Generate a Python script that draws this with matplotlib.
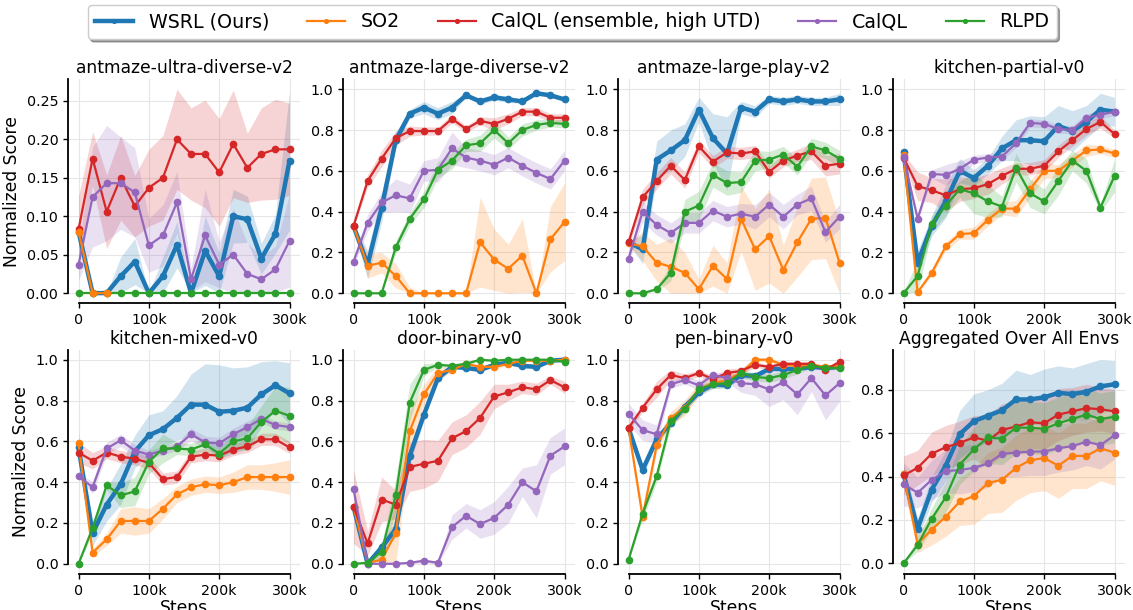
"""
plot.py

Online fine-tuning curves (normalized score vs. environment steps) for
WSRL and baselines on eight D4RL tasks, with shaded spread bands.
"""

import numpy as np
import matplotlib.pyplot as plt
from matplotlib.ticker import FuncFormatter

NAN = float("nan")

STEPS = [0, 20000, 40000, 60000, 80000, 100000, 120000, 140000, 160000,
         180000, 200000, 220000, 240000, 260000, 280000, 300000]

METHODS = ["WSRL (Ours)", "SO2", "CalQL (ensemble, high UTD)", "CalQL", "RLPD"]
COLORS = {
    "WSRL (Ours)": "#1f77b4",
    "SO2": "#ff7f0e",
    "CalQL (ensemble, high UTD)": "#d62728",
    "CalQL": "#9467bd",
    "RLPD": "#2ca02c",
}

ENV_TITLES = [
    "antmaze-ultra-diverse-v2", "antmaze-large-diverse-v2", "antmaze-large-play-v2",
    "kitchen-partial-v0", "kitchen-mixed-v0", "door-binary-v0", "pen-binary-v0",
    "Aggregated Over All Envs",
]

# --- antmaze-ultra-diverse-v2 ---
ultra_mean = {
    "WSRL (Ours)": [0.08, 0, 0, 0.022, 0.041, 0, 0.022, 0.063, 0, 0.055, 0.022, 0.10, 0.096, 0.045, 0.077, 0.172],
    "SO2": [0.08, 0, 0, NAN, NAN, NAN, NAN, NAN, NAN, NAN, NAN, NAN, NAN, NAN, NAN, NAN],
    "CalQL (ensemble, high UTD)": [0.083, 0.175, 0.106, 0.15, 0.113, 0.137, 0.15, 0.20, 0.181, 0.181, 0.157, 0.194, 0.163, 0.181, 0.187, 0.187],
    "CalQL": [0.037, 0.125, 0.143, 0.143, 0.131, 0.062, 0.075, 0.118, 0.018, 0.075, 0.037, 0.05, 0.025, 0.018, 0.031, 0.068],
    "RLPD": [0, 0, 0, 0, 0, 0, 0, 0, 0, 0, 0, 0, 0, 0, 0, 0],
}
ultra_err = {
    "WSRL (Ours)": [0, 0, 0, 0.025, 0.03, 0, 0.025, 0.03, 0, 0.045, 0.03, 0.035, 0.03, 0.02, 0.025, 0.09],
    "SO2": [0.02, 0, 0, NAN, NAN, NAN, NAN, NAN, NAN, NAN, NAN, NAN, NAN, NAN, NAN, NAN],
    "CalQL (ensemble, high UTD)": [0.043, 0.035, 0.048, 0.055, 0.04, 0.05, 0.055, 0.065, 0.06, 0.07, 0.07, 0.07, 0.045, 0.06, 0.065, 0.06],
    "CalQL": [0.02, 0.065, 0.075, 0.06, 0.058, 0.035, 0.04, 0.04, 0.015, 0.06, 0.03, 0.06, 0.04, 0.03, 0.03, 0.06],
    "RLPD": [0, 0, 0, 0, 0, 0, 0, 0, 0, 0, 0, 0, 0, 0, 0, 0],
}

# --- antmaze-large-diverse-v2 ---
large_diverse_mean = {
    "WSRL (Ours)": [0.33, 0.14, 0.42, 0.75, 0.88, 0.91, 0.88, 0.91, 0.97, 0.94, 0.96, 0.95, 0.94, 0.98, 0.97, 0.95],
    "SO2": [0.33, 0.135, 0.15, 0.085, 0, 0, 0, 0, 0, 0.25, 0.165, 0.12, 0.185, 0, 0.265, 0.35],
    "CalQL (ensemble, high UTD)": [0.33, 0.55, 0.66, 0.76, 0.795, 0.795, 0.795, 0.855, 0.805, 0.845, 0.83, 0.855, 0.89, 0.89, 0.86, 0.86],
    "CalQL": [0.155, 0.345, 0.445, 0.48, 0.465, 0.60, 0.605, 0.71, 0.665, 0.65, 0.63, 0.665, 0.625, 0.59, 0.56, 0.65],
    "RLPD": [0, 0, 0, 0.225, 0.365, 0.46, 0.605, 0.65, 0.725, 0.735, 0.80, 0.735, 0.80, 0.825, 0.835, 0.83],
}
large_diverse_err = {
    "WSRL (Ours)": [0.01, 0.07, 0.07, 0.04, 0.02, 0.03, 0.03, 0.03, 0.01, 0.015, 0.015, 0.015, 0.01, 0.01, 0.01, 0.01],
    "SO2": [0.005, 0.06, 0.05, 0.06, 0.03, 0, 0, 0, 0, 0.22, 0.15, 0.12, 0.18, 0, 0.16, 0.19],
    "CalQL (ensemble, high UTD)": [0.01, 0.03, 0.04, 0.035, 0.025, 0.02, 0.02, 0.02, 0.015, 0.02, 0.03, 0.025, 0.02, 0.02, 0.02, 0.02],
    "CalQL": [0.02, 0.04, 0.05, 0.08, 0.07, 0.05, 0.06, 0.08, 0.05, 0.05, 0.05, 0.05, 0.05, 0.05, 0.05, 0.05],
    "RLPD": [0, 0, 0, 0.03, 0.03, 0.04, 0.04, 0.04, 0.03, 0.04, 0.04, 0.03, 0.03, 0.025, 0.02, 0.02],
}

# --- antmaze-large-play-v2 ---
large_play_mean = {
    "WSRL (Ours)": [0.25, 0.215, 0.655, 0.70, 0.75, 0.90, 0.76, 0.685, 0.91, 0.89, 0.95, 0.94, 0.95, 0.94, 0.94, 0.95],
    "SO2": [0.245, 0.23, 0.15, 0.13, 0.10, 0.02, 0.135, 0.07, 0.365, 0.215, 0.28, 0.115, 0.25, 0.365, 0.37, 0.15],
    "CalQL (ensemble, high UTD)": [0.25, 0.47, 0.55, 0.625, 0.555, 0.72, 0.645, 0.69, 0.685, 0.695, 0.595, 0.65, 0.675, 0.695, 0.625, 0.635],
    "CalQL": [0.17, 0.40, 0.335, 0.295, 0.345, 0.345, 0.405, 0.375, 0.39, 0.375, 0.435, 0.375, 0.435, 0.465, 0.30, 0.375],
    "RLPD": [0, 0, 0.02, 0.10, 0.40, 0.43, 0.58, 0.54, 0.545, 0.65, 0.655, 0.68, 0.62, 0.72, 0.70, 0.66],
}
large_play_err = {
    "WSRL (Ours)": [0.01, 0.07, 0.09, 0.10, 0.08, 0.06, 0.12, 0.18, 0.03, 0.03, 0.02, 0.02, 0.02, 0.02, 0.02, 0.03],
    "SO2": [0.01, 0.07, 0.09, 0.14, 0.10, 0.05, 0.10, 0.08, 0.16, 0.20, 0.23, 0.12, 0.17, 0.20, 0.20, 0.20],
    "CalQL (ensemble, high UTD)": [0.02, 0.04, 0.04, 0.04, 0.04, 0.03, 0.03, 0.03, 0.03, 0.03, 0.03, 0.03, 0.03, 0.04, 0.05, 0.05],
    "CalQL": [0.02, 0.05, 0.05, 0.05, 0.05, 0.05, 0.05, 0.05, 0.05, 0.06, 0.06, 0.06, 0.05, 0.06, 0.05, 0.06],
    "RLPD": [0, 0, 0.01, 0.04, 0.06, 0.07, 0.06, 0.06, 0.05, 0.05, 0.04, 0.04, 0.04, 0.04, 0.04, 0.04],
}

# --- kitchen-partial-v0 ---
kitchen_partial_mean = {
    "WSRL (Ours)": [0.69, 0.15, 0.33, 0.45, 0.60, 0.565, 0.625, 0.71, 0.75, 0.75, 0.745, 0.82, 0.795, 0.84, 0.90, 0.89],
    "SO2": [0.68, 0.005, 0.10, 0.23, 0.29, 0.295, 0.36, 0.415, 0.415, 0.51, 0.60, 0.60, 0.65, 0.70, 0.705, 0.685],
    "CalQL (ensemble, high UTD)": [0.665, 0.525, 0.505, 0.48, 0.51, 0.515, 0.535, 0.575, 0.61, 0.61, 0.625, 0.695, 0.75, 0.805, 0.84, 0.78],
    "CalQL": [0.67, 0.365, 0.585, 0.58, 0.61, 0.655, 0.665, 0.67, 0.735, 0.835, 0.83, 0.805, 0.80, 0.86, 0.875, 0.89],
    "RLPD": [0, 0.085, 0.34, 0.43, 0.51, 0.49, 0.45, 0.425, 0.615, 0.49, 0.45, 0.55, 0.65, 0.60, 0.42, 0.575],
}
kitchen_partial_err = {
    "WSRL (Ours)": [0.01, 0.06, 0.05, 0.08, 0.06, 0.04, 0.04, 0.06, 0.10, 0.12, 0.12, 0.10, 0.10, 0.08, 0.08, 0.07],
    "SO2": [0.01, 0.01, 0.015, 0.02, 0.025, 0.03, 0.03, 0.03, 0.04, 0.04, 0.04, 0.03, 0.03, 0.03, 0.02, 0.02],
    "CalQL (ensemble, high UTD)": [0.02, 0.07, 0.06, 0.08, 0.06, 0.05, 0.05, 0.04, 0.03, 0.03, 0.03, 0.03, 0.03, 0.03, 0.03, 0.02],
    "CalQL": [0.01, 0.02, 0.02, 0.05, 0.04, 0.02, 0.02, 0.02, 0.02, 0.02, 0.02, 0.02, 0.02, 0.02, 0.02, 0.02],
    "RLPD": [0.005, 0.08, 0.04, 0.05, 0.04, 0.10, 0.08, 0.05, 0.07, 0.07, 0.06, 0.07, 0.05, 0.06, 0.02, 0.08],
}

# --- kitchen-mixed-v0 ---
kitchen_mixed_mean = {
    "WSRL (Ours)": [0.57, 0.15, 0.29, 0.39, 0.55, 0.63, 0.66, 0.715, 0.78, 0.78, 0.745, 0.75, 0.765, 0.83, 0.875, 0.835],
    "SO2": [0.59, 0.055, 0.12, 0.21, 0.21, 0.21, 0.27, 0.34, 0.375, 0.39, 0.385, 0.40, 0.425, 0.425, 0.425, 0.425],
    "CalQL (ensemble, high UTD)": [0.545, 0.505, 0.545, 0.525, 0.515, 0.495, 0.415, 0.425, 0.525, 0.535, 0.53, 0.56, 0.575, 0.61, 0.61, 0.57],
    "CalQL": [0.43, 0.375, 0.565, 0.605, 0.555, 0.535, 0.555, 0.575, 0.635, 0.595, 0.59, 0.635, 0.67, 0.71, 0.68, 0.67],
    "RLPD": [0, 0.175, 0.385, 0.335, 0.355, 0.50, 0.565, 0.565, 0.56, 0.585, 0.54, 0.60, 0.615, 0.695, 0.75, 0.725],
}
kitchen_mixed_err = {
    "WSRL (Ours)": [0.02, 0.06, 0.08, 0.10, 0.08, 0.10, 0.09, 0.11, 0.15, 0.20, 0.23, 0.21, 0.20, 0.16, 0.12, 0.15],
    "SO2": [0.06, 0.02, 0.03, 0.06, 0.07, 0.06, 0.05, 0.04, 0.04, 0.04, 0.04, 0.05, 0.06, 0.06, 0.07, 0.085],
    "CalQL (ensemble, high UTD)": [0.05, 0.04, 0.03, 0.03, 0.03, 0.03, 0.03, 0.03, 0.03, 0.03, 0.03, 0.03, 0.03, 0.03, 0.03, 0.03],
    "CalQL": [0.01, 0.03, 0.03, 0.03, 0.03, 0.02, 0.02, 0.02, 0.03, 0.03, 0.03, 0.03, 0.03, 0.02, 0.02, 0.02],
    "RLPD": [0.005, 0.03, 0.02, 0.06, 0.07, 0.06, 0.07, 0.03, 0.03, 0.03, 0.03, 0.04, 0.06, 0.08, 0.12, 0.14],
}

# --- door-binary-v0 ---
door_mean = {
    "WSRL (Ours)": [0.28, 0.0, 0.08, 0.17, 0.53, 0.73, 0.91, 0.965, 0.96, 0.95, 0.975, 0.985, 0.97, 0.965, 0.995, 1.0],
    "SO2": [0.28, 0.005, 0.02, 0.15, 0.65, 0.83, 0.935, 0.95, 0.98, 0.965, 0.965, 0.98, 0.995, 0.995, 0.995, 1.0],
    "CalQL (ensemble, high UTD)": [0.28, 0.10, 0.315, 0.29, 0.475, 0.49, 0.505, 0.615, 0.65, 0.715, 0.82, 0.84, 0.865, 0.855, 0.90, 0.865],
    "CalQL": [0.365, 0.0, 0.0, 0.0, 0.005, 0.015, 0.005, 0.18, 0.235, 0.195, 0.225, 0.29, 0.40, 0.355, 0.53, 0.575],
    "RLPD": [0, 0.005, 0.06, 0.335, 0.79, 0.95, 0.975, 0.97, 0.98, 1.0, 0.995, 1.0, 1.0, 1.0, 1.0, 0.99],
}
door_err = {
    "WSRL (Ours)": [0.01, 0.01, 0.03, 0.04, 0.04, 0.03, 0.02, 0.01, 0.01, 0.01, 0.01, 0.01, 0.01, 0.01, 0.005, 0.005],
    "SO2": [0.01, 0.01, 0.03, 0.15, 0.10, 0.05, 0.03, 0.01, 0.01, 0.01, 0.01, 0.01, 0.005, 0.005, 0.005, 0.005],
    "CalQL (ensemble, high UTD)": [0.18, 0.06, 0.11, 0.07, 0.12, 0.12, 0.10, 0.08, 0.08, 0.08, 0.06, 0.04, 0.03, 0.03, 0.02, 0.03],
    "CalQL": [0.03, 0, 0, 0, 0.005, 0.01, 0.005, 0.06, 0.06, 0.07, 0.08, 0.09, 0.07, 0.13, 0.09, 0.09],
    "RLPD": [0, 0.005, 0.04, 0.08, 0.09, 0.03, 0.01, 0.01, 0.01, 0.005, 0.005, 0.005, 0.005, 0.005, 0.005, 0.005],
}

# --- pen-binary-v0 ---
pen_mean = {
    "WSRL (Ours)": [0.665, 0.46, 0.61, 0.69, 0.77, 0.84, 0.88, 0.875, 0.925, 0.92, 0.955, 0.955, 0.955, 0.965, 0.96, 0.965],
    "SO2": [0.665, 0.23, 0.58, 0.715, 0.765, 0.855, 0.885, 0.90, 0.935, 1.0, 1.0, 0.975, 0.97, 0.975, 0.965, 0.97],
    "CalQL (ensemble, high UTD)": [0.665, 0.765, 0.855, 0.925, 0.91, 0.935, 0.905, 0.935, 0.945, 0.975, 0.965, 0.98, 0.98, 0.98, 0.95, 0.99],
    "CalQL": [0.735, 0.655, 0.635, 0.88, 0.90, 0.875, 0.925, 0.91, 0.885, 0.88, 0.855, 0.89, 0.83, 0.91, 0.825, 0.885],
    "RLPD": [0.02, 0.245, 0.43, 0.70, 0.76, 0.855, 0.88, 0.885, 0.935, 0.915, 0.91, 0.925, 0.95, 0.97, 0.96, 0.96],
}
pen_err = {
    "WSRL (Ours)": [0.01, 0.03, 0.02, 0.02, 0.02, 0.02, 0.02, 0.015, 0.015, 0.015, 0.01, 0.01, 0.01, 0.01, 0.01, 0.01],
    "SO2": [0.01, 0.04, 0.03, 0.03, 0.04, 0.03, 0.02, 0.02, 0.02, 0.01, 0.01, 0.01, 0.01, 0.01, 0.01, 0.01],
    "CalQL (ensemble, high UTD)": [0.015, 0.02, 0.04, 0.025, 0.02, 0.015, 0.015, 0.02, 0.015, 0.015, 0.01, 0.01, 0.01, 0.01, 0.01, 0.01],
    "CalQL": [0.05, 0.05, 0.045, 0.02, 0.02, 0.025, 0.015, 0.02, 0.045, 0.055, 0.085, 0.085, 0.10, 0.065, 0.12, 0.09],
    "RLPD": [0.005, 0.03, 0.03, 0.03, 0.02, 0.02, 0.02, 0.02, 0.02, 0.02, 0.02, 0.02, 0.02, 0.01, 0.01, 0.01],
}

# --- aggregated ---
agg_mean = {
    "WSRL (Ours)": [0.41, 0.16, 0.34, 0.45, 0.595, 0.655, 0.68, 0.705, 0.755, 0.755, 0.765, 0.785, 0.78, 0.79, 0.815, 0.825],
    "SO2": [0.41, 0.09, 0.155, 0.215, 0.285, 0.31, 0.37, 0.385, 0.44, 0.475, 0.485, 0.45, 0.495, 0.495, 0.53, 0.51],
    "CalQL (ensemble, high UTD)": [0.405, 0.44, 0.505, 0.535, 0.555, 0.58, 0.565, 0.615, 0.63, 0.65, 0.645, 0.685, 0.70, 0.715, 0.71, 0.70],
    "CalQL": [0.365, 0.325, 0.385, 0.425, 0.43, 0.44, 0.46, 0.505, 0.51, 0.515, 0.515, 0.53, 0.54, 0.56, 0.545, 0.59],
    "RLPD": [0, 0.085, 0.205, 0.305, 0.455, 0.525, 0.58, 0.575, 0.625, 0.625, 0.62, 0.645, 0.665, 0.685, 0.665, 0.675],
}
agg_err = {
    "WSRL (Ours)": [0.04, 0.05, 0.06, 0.07, 0.11, 0.125, 0.12, 0.125, 0.135, 0.115, 0.13, 0.125, 0.12, 0.13, 0.125, 0.11],
    "SO2": [0.05, 0.04, 0.07, 0.09, 0.11, 0.13, 0.14, 0.15, 0.15, 0.15, 0.15, 0.15, 0.15, 0.15, 0.15, 0.15],
    "CalQL (ensemble, high UTD)": [0.09, 0.08, 0.10, 0.10, 0.10, 0.10, 0.12, 0.12, 0.12, 0.12, 0.12, 0.12, 0.11, 0.11, 0.10, 0.10],
    "CalQL": [0.10, 0.07, 0.09, 0.10, 0.11, 0.11, 0.11, 0.11, 0.11, 0.11, 0.11, 0.11, 0.11, 0.11, 0.11, 0.11],
    "RLPD": [0.0, 0.03, 0.05, 0.07, 0.09, 0.10, 0.12, 0.12, 0.12, 0.12, 0.12, 0.12, 0.12, 0.12, 0.12, 0.12],
}

ENV_DATA = [
    (ultra_mean, ultra_err), (large_diverse_mean, large_diverse_err),
    (large_play_mean, large_play_err), (kitchen_partial_mean, kitchen_partial_err),
    (kitchen_mixed_mean, kitchen_mixed_err), (door_mean, door_err),
    (pen_mean, pen_err), (agg_mean, agg_err),
]


def step_fmt(v, _pos):
    return "0" if v == 0 else f"{int(round(v / 1000))}k"


def plot_env(ax, title, mean, err, idx):
    x = np.array(STEPS)
    handles = {}
    # drawn in legend order; the short SO2 curve in the ultra maze sits on top
    for k, name in enumerate(METHODS):
        m = np.array(mean[name], dtype=float)
        e = np.array(err[name], dtype=float)
        c = COLORS[name]
        z = 2 + k * 0.1
        if idx == 0 and name == "SO2":
            z = 3
        ok = ~np.isnan(m)
        ax.fill_between(x[ok], np.clip(m[ok] - e[ok], 0, None), m[ok] + e[ok],
                        color=c, alpha=0.2, lw=0, zorder=1)
        lw = 3.2 if name == "WSRL (Ours)" else 1.6
        (h,) = ax.plot(x, m, color=c, lw=lw, marker="o", ms=4.5, zorder=z)
        handles[name] = h

    ax.set_title(title, fontsize=12.3, pad=4)
    ax.grid(True, color="#e6e6e6", lw=0.8)
    ax.set_axisbelow(True)
    ax.set_xlim(-15000, 315000)
    ax.set_xticks([0, 100000, 200000, 300000])
    ax.xaxis.set_major_formatter(FuncFormatter(step_fmt))

    if idx == 0:
        ax.set_ylim(-0.0135, 0.2785)
        ax.set_yticks([0, 0.05, 0.10, 0.15, 0.20, 0.25])
        ax.yaxis.set_major_formatter(FuncFormatter(lambda v, p: f"{v:.2f}"))
        top = 0.2785
    elif idx == 7:
        ax.set_ylim(-0.049, 0.985)
        ax.set_yticks([0, 0.2, 0.4, 0.6, 0.8])
        ax.yaxis.set_major_formatter(FuncFormatter(lambda v, p: f"{v:.1f}"))
        top = 0.985
    else:
        ax.set_ylim(-0.05, 1.05)
        ax.set_yticks([0, 0.2, 0.4, 0.6, 0.8, 1.0])
        ax.yaxis.set_major_formatter(FuncFormatter(lambda v, p: f"{v:.1f}"))
        top = 1.05

    for side in ["top", "right"]:
        ax.spines[side].set_visible(False)
    ax.spines["left"].set_bounds(0, top)
    ax.spines["bottom"].set_bounds(0, 300000)
    for side in ["left", "bottom"]:
        ax.spines[side].set_linewidth(1.3)
    ax.tick_params(labelsize=10.3, width=1.0, length=3.5)

    if idx % 4 == 0:
        ax.set_ylabel("Normalized Score", fontsize=12.3)
    if idx >= 4:
        ax.set_xlabel("Steps", fontsize=12.3, labelpad=1)
    return handles


def main():
    fig, axes = plt.subplots(2, 4, figsize=(11.33, 6.10), dpi=100)
    fig.subplots_adjust(left=0.060, right=0.993, top=0.8705, bottom=0.059,
                        wspace=0.185, hspace=0.205)

    handles = None
    for idx, ax in enumerate(axes.flat):
        mean, err = ENV_DATA[idx]
        handles = plot_env(ax, ENV_TITLES[idx], mean, err, idx)

    fig.legend([handles[n] for n in METHODS], METHODS, loc="center",
               bbox_to_anchor=(0.505, 0.964), ncol=5, fontsize=13.7,
               frameon=True, fancybox=True, shadow=True, markerscale=0.6)

    fig.savefig("out.png", dpi=100)


if __name__ == "__main__":
    main()
